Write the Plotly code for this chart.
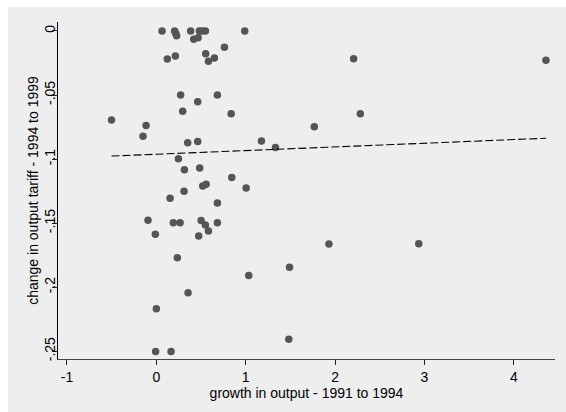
import numpy as np
import plotly.graph_objects as go

# growth in output 1991-1994 (x) and change in output tariff 1994-1999 (y)
growth = [0.064, 0.205, 0.216, 0.227, 0.384, 0.482, 0.515, 0.549, 0.418, 0.467,
          0.989, 0.762, 0.123, 0.213, 0.552, 0.650, 0.583, 2.207, 4.359,
          0.272, 0.683, 0.463, 0.295, 0.837, -0.501, -0.115, 1.767, 2.282,
          -0.149, 0.351, 0.463, 1.176, 1.333,
          0.247, 0.314, 0.485, 0.844, 0.519, 0.557, 1.005, 0.310, 0.154, 0.683,
          -0.093, 0.190, 0.266, 0.501, 0.549, 0.583, 0.683, -0.011, 0.474,
          0.235, 1.034, 1.490, 1.931, 2.936, 0.355, 0.000, -0.008, 0.165, 1.482]
tariff = [0.0, 0.0, -0.0018, -0.0037, 0.0, 0.0, 0.0, 0.0, -0.0065, -0.0052,
          0.0, -0.0127, -0.0219, -0.0195, -0.0177, -0.0211, -0.0237, -0.0217, -0.0229,
          -0.050, -0.050, -0.0553, -0.0626, -0.0647, -0.0694, -0.0737, -0.0748, -0.0647,
          -0.0821, -0.0873, -0.0862, -0.0858, -0.0909,
          -0.0998, -0.1084, -0.1069, -0.1144, -0.1210, -0.1196, -0.1225, -0.1251, -0.1306, -0.1342,
          -0.1478, -0.1496, -0.1496, -0.1480, -0.1514, -0.1561, -0.1496, -0.1587, -0.1600,
          -0.1769, -0.1908, -0.1843, -0.1663, -0.1660, -0.2043, -0.2168, -0.2502, -0.2502, -0.2406]

# fitted line
fit_intercept = -0.0962
fit_slope = 0.00286

x_ticks = [-1, 0, 1, 2, 3, 4]
x_ticktext = ["-1", "0", "1", "2", "3", "4"]
y_ticks = [0, -0.05, -0.1, -0.15, -0.2, -0.25]
y_ticktext = ["0", "-.05", "-.1", "-.15", "-.2", "-.25"]

xa = np.array(growth)
fit_x = np.array([xa.min(), xa.max()])
fit_y = fit_intercept + fit_slope * fit_x

fig = go.Figure()
fig.add_trace(go.Scatter(
    x=growth, y=tariff, mode="markers",
    marker=dict(size=7.5, color="#555555", line=dict(width=0)),
    showlegend=False, hoverinfo="skip"))
fig.add_trace(go.Scatter(
    x=fit_x, y=fit_y, mode="lines",
    line=dict(color="black", width=1.1, dash="8px,3px"),
    showlegend=False, hoverinfo="skip"))

L, R, T, B = 58, 11, 22, 53
W, H = 566, 412
pw, ph = W - L - R, H - T - B
fig.add_shape(type="rect", xref="paper", yref="paper",
              x0=(8 - L) / pw, x1=(W - L) / pw + 0.01,
              y0=-(B + 5) / ph, y1=(ph + T - 7) / ph,
              fillcolor="#eeeeee", line=dict(width=0), layer="below")

fig.update_layout(
    width=W, height=H,
    margin=dict(l=L, r=R, t=T, b=B, pad=0),
    paper_bgcolor="white", plot_bgcolor="white",
    font=dict(family="Liberation Sans, Arial, sans-serif", size=14, color="black"),
)
fig.update_xaxes(
    range=[-1.1, 4.46], tickvals=x_ticks, ticktext=x_ticktext,
    showgrid=False, zeroline=False, showline=True, linecolor="#444444", linewidth=1,
    ticks="outside", ticklen=5, tickcolor="#222222", tickwidth=1,
    tickfont=dict(size=14),
    title=dict(text="growth in output - 1991 to 1994", font=dict(size=14), standoff=0),
)
fig.update_yaxes(
    range=[-0.256, 0.007], tickvals=y_ticks, ticktext=y_ticktext,
    showgrid=False, zeroline=False, showline=True, linecolor="black", linewidth=1,
    ticks="outside", ticklen=5, tickcolor="#222222", tickwidth=1,
    tickangle=-90, tickfont=dict(size=14), ticklabelstandoff=-9,
    title=dict(text="change in output tariff - 1994 to 1999", font=dict(size=14), standoff=0),
)

fig.write_html("out.html")
